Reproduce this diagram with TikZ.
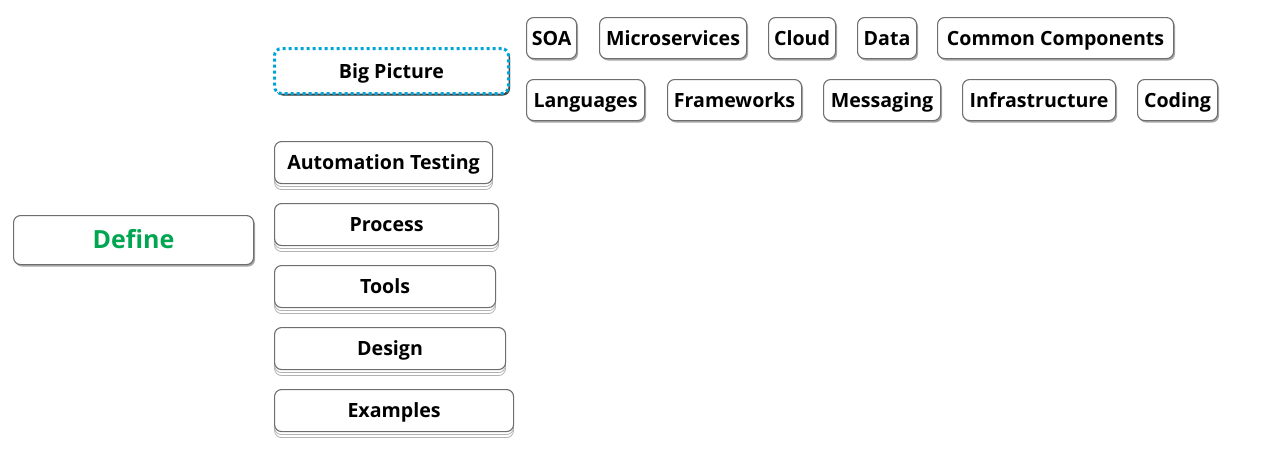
\documentclass[tikz,border=0pt]{standalone}
\usepackage{fontspec}
\setmainfont{Open Sans}
\usetikzlibrary{shadows}
\definecolor{bordergray}{RGB}{110,110,110}
\definecolor{definegreen}{RGB}{0,166,81}
\definecolor{dotcyan}{RGB}{0,165,215}
\tikzset{
  boxfont/.style={font=\fontsize{19.6}{22}\selectfont\bfseries, text height=14pt, text depth=0pt},
  box/.style={draw=bordergray, line width=1.1pt, rounded corners=7pt, fill=white,
    anchor=north west, inner sep=0pt, boxfont,
    drop shadow={shadow xshift=1.5pt, shadow yshift=-2pt, opacity=0.35, fill=black}},
  stackbox/.style={draw=bordergray, line width=1.1pt, rounded corners=7pt, fill=white,
    anchor=north west, inner sep=0pt, boxfont,
    general shadow={shadow yshift=-6pt, fill=white, draw=gray!60, line width=0.8pt},
    general shadow={shadow yshift=-3pt, fill=white, draw=gray!60, line width=0.8pt}},
  rootbox/.style={box, font=\fontsize{25}{28}\selectfont\bfseries, text height=17.8pt, text=definegreen},
  selbox/.style={box, draw=dotcyan, line width=3pt, dash pattern=on 3pt off 3pt,
    drop shadow={shadow xshift=1.5pt, shadow yshift=-2pt, opacity=0.6, fill=black}},
}
\begin{document}
\begin{tikzpicture}[x=1pt,y=-1pt]
\useasboundingbox (0,0) rectangle (1280,448);
\node[rootbox, minimum width=240pt, minimum height=49pt] (define) at (13,215) {Define};
\node[selbox, minimum width=234pt, minimum height=45pt] (bigpic) at (273,47) {Big Picture};
\node[stackbox, minimum width=218pt, minimum height=42pt] (auto) at (274,141) {Automation Testing};
\node[stackbox, minimum width=224pt, minimum height=42pt] (process) at (274,203) {Process};
\node[stackbox, minimum width=221pt, minimum height=42pt] (tools) at (274,265) {Tools};
\node[stackbox, minimum width=231pt, minimum height=42pt] (design) at (274,327) {Design};
\node[stackbox, minimum width=239pt, minimum height=42pt] (examples) at (274,389) {Examples};
% top row
\node[box, minimum width=50pt, minimum height=41pt] (soa) at (526,17) {SOA};
\node[box, minimum width=147pt, minimum height=41pt] (micro) at (599,17) {Microservices};
\node[box, minimum width=67pt, minimum height=41pt] (cloud) at (768,17) {Cloud};
\node[box, minimum width=59pt, minimum height=41pt] (data) at (857,17) {Data};
\node[box, minimum width=236pt, minimum height=41pt] (common) at (937,17) {Common Components};
% second row
\node[box, minimum width=118pt, minimum height=41pt] (lang) at (526,79) {Languages};
\node[box, minimum width=134pt, minimum height=41pt] (frame) at (667,79) {Frameworks};
\node[box, minimum width=117pt, minimum height=41pt] (msg) at (823,79) {Messaging};
\node[box, minimum width=153pt, minimum height=41pt] (infra) at (962,79) {Infrastructure};
\node[box, minimum width=80pt, minimum height=41pt] (coding) at (1137,79) {Coding};
\end{tikzpicture}
\end{document}
